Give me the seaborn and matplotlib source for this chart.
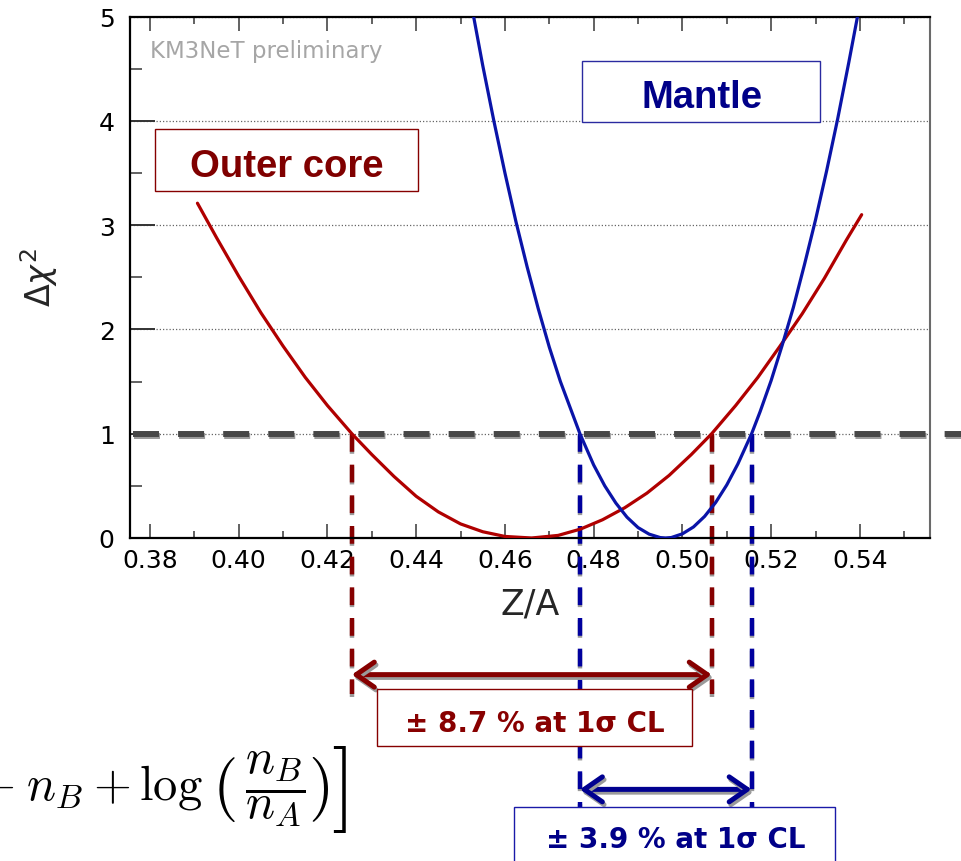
import numpy as np
import pandas as pd
import matplotlib
matplotlib.use("Agg")
import matplotlib.pyplot as plt
import matplotlib.patheffects as pe
import matplotlib.transforms as mtransforms
from matplotlib.patches import Rectangle
from matplotlib.ticker import MultipleLocator, FixedLocator, FuncFormatter
import seaborn as sns

# Delta chi^2 profile for the outer core
core_za = [0.3907, 0.3950, 0.4000, 0.4050, 0.4100, 0.4150, 0.4200, 0.4255,
           0.4300, 0.4350, 0.4400, 0.4450, 0.4500, 0.4550, 0.4600, 0.4660,
           0.4720, 0.4770, 0.4820, 0.4870, 0.4920, 0.4970, 0.5020, 0.5066,
           0.5120, 0.5170, 0.5220, 0.5270, 0.5320, 0.5370, 0.5404]
core_dchi2 = [3.21, 2.88, 2.51, 2.16, 1.84, 1.54, 1.27, 1.00,
              0.80, 0.59, 0.40, 0.25, 0.135, 0.06, 0.015, 0.00,
              0.025, 0.085, 0.175, 0.29, 0.43, 0.60, 0.80, 1.00,
              1.27, 1.54, 1.84, 2.15, 2.49, 2.86, 3.10]

# Delta chi^2 profile for the mantle
mantle_za = [0.4525, 0.4550, 0.4575, 0.4600, 0.4625, 0.4650, 0.4675, 0.4700,
             0.4725, 0.4769, 0.4800, 0.4825, 0.4850, 0.4875, 0.4900, 0.4925,
             0.4950, 0.4962, 0.4975, 0.5000, 0.5025, 0.5050, 0.5075, 0.5100,
             0.5125, 0.5156, 0.5175, 0.5200, 0.5225, 0.5250, 0.5275, 0.5300,
             0.5325, 0.5350, 0.5375, 0.5400]
mantle_dchi2 = [5.10, 4.53, 4.00, 3.50, 3.03, 2.60, 2.20, 1.83,
                1.50, 1.00, 0.70, 0.50, 0.335, 0.20, 0.10, 0.037,
                0.004, 0.00, 0.0045, 0.04, 0.106, 0.207, 0.341, 0.509,
                0.71, 1.00, 1.21, 1.51, 1.85, 2.21, 2.62, 3.05,
                3.52, 4.02, 4.56, 5.12]

# 1 sigma interval edges (Delta chi^2 = 1 crossings)
core_lo, core_hi = 0.4255, 0.5066
mantle_lo, mantle_hi = 0.4769, 0.5156
sigma_level = 1.0

x_ticks = [0.38, 0.40, 0.42, 0.44, 0.46, 0.48, 0.50, 0.52, 0.54]
y_ticks = [0, 1, 2, 3, 4, 5]

RED = "#b00000"
RED_DARK = "#860000"
BLUE = "#0a14a8"
BLUE_DARK = "#000088"

sns.set_theme(style="ticks")
plt.rcParams["font.family"] = ["DejaVu Sans"]
plt.rcParams["mathtext.fontset"] = "dejavusans"

W, H = 961, 862
fig = plt.figure(figsize=(W / 100, H / 100), dpi=100)
fig.patch.set_facecolor("white")
ax = fig.add_axes([130 / W, 1 - 539 / H, 800 / W, 521.5 / H])
ax.set_facecolor("white")

# pixel transform (origin top-left) for the annotation panel below the axes
px = mtransforms.Affine2D().scale(1 / W, -1 / H).translate(0, 1) + fig.transFigure

df = pd.concat([
    pd.DataFrame({"Z/A": core_za, "dchi2": core_dchi2, "layer": "Outer core"}),
    pd.DataFrame({"Z/A": mantle_za, "dchi2": mantle_dchi2, "layer": "Mantle"}),
], ignore_index=True)

sns.lineplot(data=df, x="Z/A", y="dchi2", hue="layer",
             palette={"Outer core": RED, "Mantle": BLUE},
             linewidth=2.3, legend=False, ax=ax, sort=False,
             estimator=None, zorder=3)

ax.set_xlim(0.3755, 0.5558)
ax.set_ylim(0, 5)

# horizontal 1 sigma line, running past the frame to the right edge
x_end = 0.38 + (961 - 150) / 4437.5
x_start = 0.38 + (133 - 150) / 4437.5
shadow = [pe.SimpleLineShadow(offset=(0.6, -2.0), shadow_color="#9a9a9a", alpha=1.0), pe.Normal()]
ax.plot([x_start, x_end], [sigma_level, sigma_level], color="#474747", lw=4.3,
        dashes=(4.35, 3.2), solid_capstyle="butt", dash_capstyle="butt",
        clip_on=False, zorder=2, path_effects=shadow)

# vertical guides down from the crossings
vshadow = [pe.SimpleLineShadow(offset=(0.3, -1.5), shadow_color="#9a9a9a", alpha=1.0), pe.Normal()]
for xv in (core_lo, core_hi):
    ax.plot([xv, xv], [sigma_level, -1.50], color=RED_DARK, lw=3.2,
            dashes=(4.0, 2.9), dash_capstyle="butt", clip_on=False,
            zorder=2.5, path_effects=vshadow)
for xv in (mantle_lo, mantle_hi):
    ax.plot([xv, xv], [sigma_level, -3.3], color="#00009e", lw=3.2,
            dashes=(4.0, 2.9), dash_capstyle="butt", clip_on=False,
            zorder=2.5, path_effects=vshadow)

# double arrows spanning the intervals
ashadow = [pe.SimpleLineShadow(offset=(1.2, -2.0), shadow_color="#9a9a9a", alpha=1.0), pe.Normal()]
for (a, b, yv, col) in ((core_lo, core_hi, -1.31, RED_DARK),
                        (mantle_lo, mantle_hi, -2.41, "#000090")):
    ann = ax.annotate("", xy=(b, yv), xytext=(a, yv), xycoords="data",
                      textcoords="data", annotation_clip=False,
                      arrowprops=dict(arrowstyle="<->,head_length=0.65,head_width=0.45",
                                      color=col, lw=3.6, shrinkA=0, shrinkB=0,
                                      mutation_scale=20))
    ann.arrow_patch.set_path_effects(ashadow)
    ann.arrow_patch.set_clip_on(False)
    ann.set_zorder(4)

# axes styling
ax.xaxis.set_major_locator(FixedLocator(x_ticks))
ax.xaxis.set_major_formatter(FuncFormatter(lambda v, p: f"{v:.2f}"))
ax.xaxis.set_minor_locator(MultipleLocator(0.01))
ax.yaxis.set_major_locator(FixedLocator(y_ticks))
ax.yaxis.set_major_formatter(FuncFormatter(lambda v, p: f"{v:g}"))
ax.yaxis.set_minor_locator(MultipleLocator(0.5))

ax.tick_params(axis="x", which="major", direction="in", length=10, width=1.3,
               color="#555555", top=True, bottom=True, labelsize=18, pad=7,
               labelcolor="black")
ax.tick_params(axis="x", which="minor", direction="in", length=5, width=1.3,
               color="#555555", top=True, bottom=True)
ax.tick_params(axis="y", which="major", direction="in", length=18, width=1.4,
               color="#333333", left=True, right=False, labelsize=18, pad=11,
               labelcolor="black")
ax.tick_params(axis="y", which="minor", direction="in", length=8.5, width=1.3,
               color="#555555", left=True, right=False)

ax.yaxis.grid(True, which="major", linestyle=(0, (1, 1.6)), color="#666666", lw=0.9)
ax.xaxis.grid(False)
ax.set_axisbelow(True)

for side in ("left", "bottom", "top"):
    ax.spines[side].set_color("black")
    ax.spines[side].set_linewidth(1.6)
ax.spines["right"].set_color("#6a6a6a")
ax.spines["right"].set_linewidth(1.5)

ax.set_xlabel("Z/A", fontsize=25, va="baseline")
ax.xaxis.set_label_coords(0.5, (539 - 615) / 521.5)
ax.set_ylabel(r"$\Delta\chi^{2}$", fontsize=24)
ax.yaxis.set_label_coords((60 - 130) / 800, (539 - 278) / 521.5)

ax.text(0.025, (539 - 58) / 521.5, "KM3NeT preliminary", transform=ax.transAxes,
        color="#a6a6a6", fontsize=16.5, va="baseline", ha="left")

# layer labels inside the frame
ax.add_patch(Rectangle((25 / 800, (539 - 192) / 521.5), 263 / 800, 62 / 521.5,
                       transform=ax.transAxes, facecolor="white",
                       edgecolor=RED_DARK, lw=1.0, zorder=5))
ax.text(156.5 / 800, (539 - 177) / 521.5, "Outer core", transform=ax.transAxes,
        color="#800000", fontsize=27.5, fontweight="bold",
        family=["Liberation Sans", "DejaVu Sans"], ha="center", va="baseline", zorder=6)

ax.add_patch(Rectangle((452 / 800, (539 - 123) / 521.5), 238 / 800, 61 / 521.5,
                       transform=ax.transAxes, facecolor="white",
                       edgecolor="#2a2aa0", lw=1.0, zorder=5))
ax.text(571.5 / 800, (539 - 108) / 521.5, "Mantle", transform=ax.transAxes,
        color=BLUE_DARK, fontsize=27.5, fontweight="bold",
        family=["Liberation Sans", "DejaVu Sans"], ha="center", va="baseline", zorder=6)

# interval labels below the frame
core_pct = 100 * (core_hi - core_lo) / (core_hi + core_lo)
mantle_pct = 100 * (mantle_hi - mantle_lo) / (mantle_hi + mantle_lo)

r1 = Rectangle((377, 690), 315, 57, transform=px, facecolor="white",
               edgecolor=RED_DARK, lw=1.0, zorder=5, clip_on=False)
ax.add_artist(r1)
ax.text(534.5, 732, f"± {core_pct:.1f} % at 1σ CL", transform=px,
        color="#880000", fontsize=20, fontweight="bold", ha="center",
        va="baseline", zorder=6, clip_on=False)

r2 = Rectangle((514, 808), 321, 90, transform=px, facecolor="white",
               edgecolor="#1a1aa8", lw=1.0, zorder=5, clip_on=False)
ax.add_artist(r2)
ax.text(675.5, 848, f"± {mantle_pct:.1f} % at 1σ CL", transform=px,
        color="#000088", fontsize=20, fontweight="bold", ha="center",
        va="baseline", zorder=6, clip_on=False)

# likelihood expression fragment at the lower left, set piece by piece
cm = dict(math_fontfamily="cm", color="black", transform=px)
fig.text(203, 800, r"$+\;n_B+\log$", fontsize=35, ha="right", va="baseline", **cm)
fig.text(212, 790, r"$($", fontsize=47, ha="left", va="center", **cm)
fig.text(275.5, 789, r"$\dfrac{n_B}{n_A}$", fontsize=35, ha="center", va="center", **cm)
fig.text(308, 790, r"$)$", fontsize=47, ha="left", va="center", **cm)
fig.text(331, 790, r"$]$", fontsize=62, ha="left", va="center", **cm)

fig.savefig("out.png", dpi=100, facecolor="white")
